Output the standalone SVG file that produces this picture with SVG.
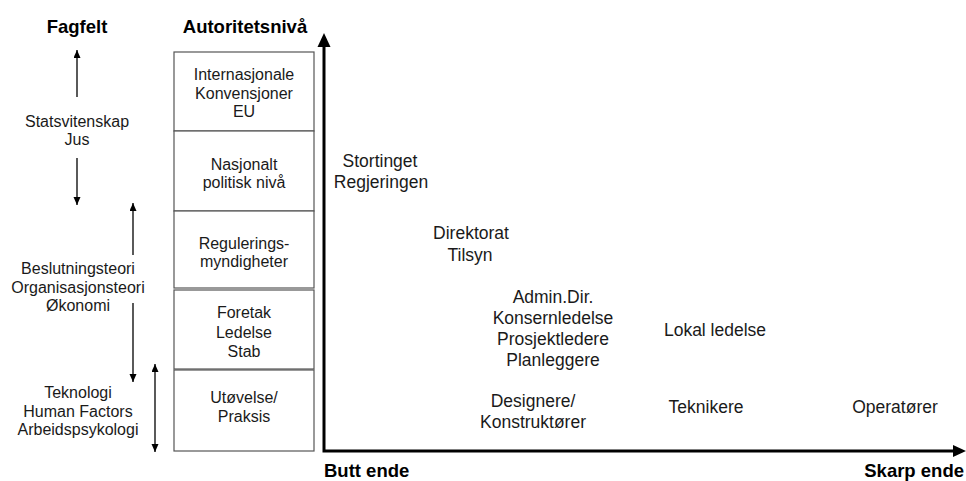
<svg xmlns="http://www.w3.org/2000/svg" width="966" height="481" viewBox="0 0 966 481">
  <style>
    text { font-family: "Liberation Sans", Arial, Helvetica, sans-serif; fill: #1a1a1a; text-anchor: middle; }
    .title { font-size: 18.5px; font-weight: bold; fill: #000; }
    .side { font-size: 16px; }
    .box { fill: #fff; stroke: #555; stroke-width: 1.2; }
    .lvl { font-size: 16px; }
    .role { font-size: 17.5px; }
    .arr { stroke: #000; stroke-width: 1.3; fill: none; }
    .axis { stroke: #000; stroke-width: 3; fill: none; }
  </style>
  <defs>
    <marker id="ah" markerUnits="userSpaceOnUse" markerWidth="10" markerHeight="8" refX="8" refY="3.5" orient="auto-start-reverse">
      <path d="M0,0 L8,3.5 L0,7 Z" fill="#000"/>
    </marker>
  </defs>

  <!-- Titles -->
  <text class="title" x="77" y="33">Fagfelt</text>
  <text class="title" x="245" y="33">Autoritetsnivå</text>

  <!-- Fagfelt labels -->
  <g id="fag-stats">
    <text class="side" x="77" y="127">Statsvitenskap</text>
    <text class="side" x="77" y="145">Jus</text>
  </g>
  <g id="fag-besl">
    <text class="side" x="78" y="274">Beslutningsteori</text>
    <text class="side" x="78" y="293">Organisasjonsteori</text>
    <text class="side" x="78" y="311">Økonomi</text>
  </g>
  <g id="fag-tek">
    <text class="side" x="78" y="398">Teknologi</text>
    <text class="side" x="78" y="417">Human Factors</text>
    <text class="side" x="78" y="435">Arbeidspsykologi</text>
  </g>

  <!-- Authority level boxes -->
  <g id="lvl-int">
    <rect class="box" x="174" y="52" width="140" height="79"/>
    <text class="lvl" x="244" y="80">Internasjonale</text>
    <text class="lvl" x="244" y="99">Konvensjoner</text>
    <text class="lvl" x="244" y="117">EU</text>
  </g>
  <g id="lvl-nas">
    <rect class="box" x="174" y="131" width="140" height="80"/>
    <text class="lvl" x="244" y="170">Nasjonalt</text>
    <text class="lvl" x="244" y="188">politisk nivå</text>
  </g>
  <g id="lvl-reg">
    <rect class="box" x="174" y="211" width="140" height="77"/>
    <text class="lvl" x="244" y="249">Regulerings-</text>
    <text class="lvl" x="244" y="267">myndigheter</text>
  </g>
  <g id="lvl-for">
    <rect class="box" x="174" y="290" width="140" height="79"/>
    <text class="lvl" x="244" y="318">Foretak</text>
    <text class="lvl" x="244" y="338">Ledelse</text>
    <text class="lvl" x="244" y="357">Stab</text>
  </g>
  <g id="lvl-utv">
    <rect class="box" x="174" y="370" width="140" height="81"/>
    <text class="lvl" x="244" y="403">Utøvelse/</text>
    <text class="lvl" x="244" y="422">Praksis</text>
  </g>

  <!-- Connectors -->
  <g id="connectors">
    <line class="arr" x1="77" y1="97" x2="77" y2="50" marker-end="url(#ah)"/>
    <line class="arr" x1="77" y1="158" x2="77" y2="205" marker-end="url(#ah)"/>
    <line class="arr" x1="133" y1="255" x2="133" y2="203" marker-end="url(#ah)"/>
    <line class="arr" x1="133" y1="303" x2="133" y2="382" marker-end="url(#ah)"/>
    <line class="arr" x1="155" y1="364" x2="155" y2="452" marker-start="url(#ah)" marker-end="url(#ah)"/>
    <!-- axes -->
    <path class="axis" d="M324,46 L324,451 L954,451"/>
    <polygon points="324,33 317.5,47 330.5,47" fill="#000"/>
    <polygon points="966,451 953,445 953,457" fill="#000"/>
  </g>

  <!-- Axis labels -->
  <text class="title" x="324" y="477" style="text-anchor:start">Butt ende</text>
  <text class="title" x="964" y="477" style="text-anchor:end">Skarp ende</text>

  <!-- Roles -->
  <g id="role-storting">
    <text class="role" x="380" y="167">Stortinget</text>
    <text class="role" x="381" y="188">Regjeringen</text>
  </g>
  <g id="role-direktorat">
    <text class="role" x="471" y="239">Direktorat</text>
    <text class="role" x="470" y="261">Tilsyn</text>
  </g>
  <g id="role-admin">
    <text class="role" x="553" y="303">Admin.Dir.</text>
    <text class="role" x="553" y="324">Konsernledelse</text>
    <text class="role" x="553" y="345">Prosjektledere</text>
    <text class="role" x="553" y="366">Planleggere</text>
  </g>
  <g id="role-lokal">
    <text class="role" x="715" y="336">Lokal ledelse</text>
  </g>
  <g id="role-design">
    <text class="role" x="533" y="407">Designere/</text>
    <text class="role" x="533" y="428">Konstruktører</text>
  </g>
  <g id="role-tekniker">
    <text class="role" x="706" y="413">Teknikere</text>
  </g>
  <g id="role-operator">
    <text class="role" x="895" y="413">Operatører</text>
  </g>
</svg>
